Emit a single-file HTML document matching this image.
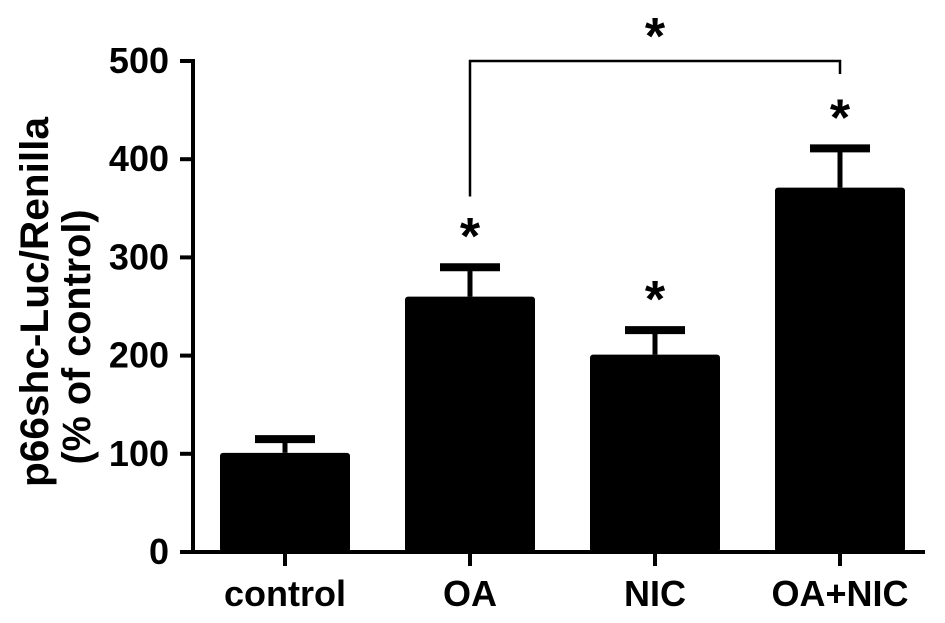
<!DOCTYPE html>
<html><head><meta charset="utf-8"><style>
body{margin:0;background:#fff}
svg text{font-family:"Liberation Sans",Arial,sans-serif;font-weight:bold;fill:#000}
</style></head><body>
<svg width="945" height="618" viewBox="0 0 945 618">
<g id="g"></g>
</svg>
<script>
const categories=["control","OA","NIC","OA+NIC"];
const means=[101,260,201,371];
const errors=[14,30,25,40];
const yTicks=[0,100,200,300,400,500];
const stars=["","*","*","*"];
const NS="http://www.w3.org/2000/svg";
const g=document.getElementById('g');
const y0=552,pxPer=0.982;
const yS=v=>y0-v*pxPer;
const xS=i=>285+i*185;
const bw=130;
function mk(t,a,txt){const e=document.createElementNS(NS,t);for(const k in a)e.setAttribute(k,a[k]);if(txt!==undefined)e.textContent=txt;g.appendChild(e);return e;}
let e;
e=mk('line',{x1:193,y1:yS(500)-2,x2:193,y2:y0+2,stroke:'#000','stroke-width':4});


e=mk('line',{x1:180,y1:y0,x2:925,y2:y0,stroke:'#000','stroke-width':4});


yTicks.forEach(v=>{
 e=mk('line',{x1:180,y1:yS(v),x2:193,y2:yS(v),stroke:'#000','stroke-width':4});
 
 
 e=mk('text',{x:169,y:yS(v)+12,'text-anchor':'end','font-size':36},v);
 
 
});
categories.forEach((c,i)=>{
 const x=xS(i);
 e=mk('line',{x1:x,y1:y0,x2:x,y2:y0+14,stroke:'#000','stroke-width':4});
 
 
 e=mk('text',{x:x,y:y0+54,'text-anchor':'middle','font-size':36},c);
 
 
 const top=yS(means[i]),et=yS(means[i]+errors[i]);
 e=mk('line',{x1:x,y1:top,x2:x,y2:et,stroke:'#000','stroke-width':5});
 
 
 e=mk('line',{x1:x-30,y1:et,x2:x+30,y2:et,stroke:'#000','stroke-width':8});
 
 
 e=mk('rect',{x:x-bw/2,y:top,width:bw,height:y0-top,rx:3,fill:'#000'});
 
 
 if(stars[i]){
  e=mk('text',{x:x,y:et-13,'text-anchor':'middle','font-size':52},stars[i]);
  
  
 }
});
const bx1=xS(1),bx2=xS(3),by=yS(500);
e=mk('path',{d:`M${bx1},${yS(362)} V${by} H${bx2} V${by+13}`,fill:'none',stroke:'#000','stroke-width':2.5});


e=mk('text',{x:(bx1+bx2)/2,y:54,'text-anchor':'middle','font-size':52},'*');


e=mk('text',{x:0,y:0,'text-anchor':'middle','font-size':40,textLength:370,lengthAdjust:'spacingAndGlyphs',transform:'translate(48,302) rotate(-90)'},'p66shc-Luc/Renilla');


e=mk('text',{x:0,y:0,'text-anchor':'middle','font-size':40,textLength:255,lengthAdjust:'spacingAndGlyphs',transform:'translate(90,337) rotate(-90)'},'(% of control)');


</script>
</body></html>
